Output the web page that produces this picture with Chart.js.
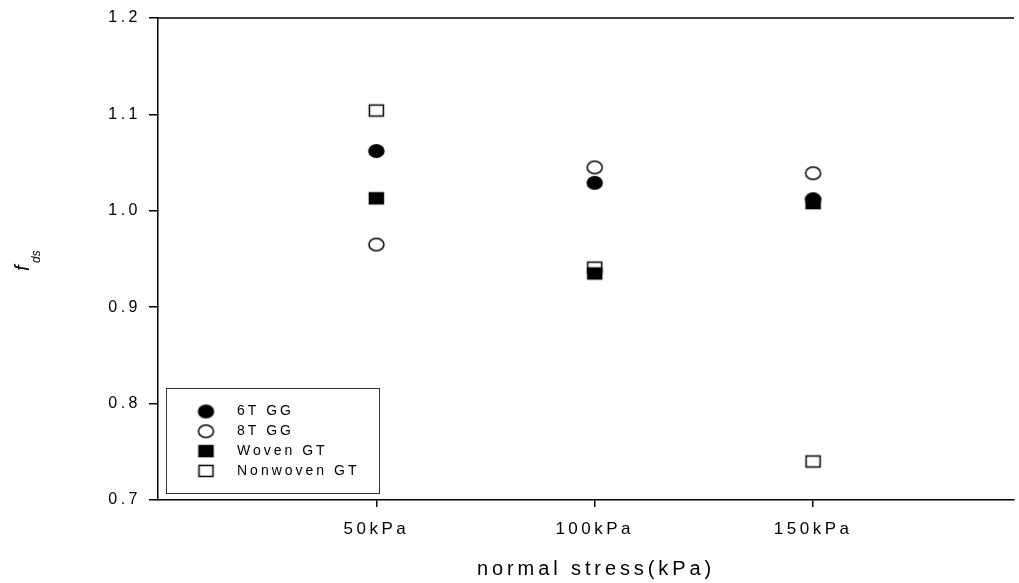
<!DOCTYPE html>
<html>
<head>
<meta charset="utf-8">
<script src="https://cdn.jsdelivr.net/npm/chart.js@4"></script>
<style>
  html, body { margin: 0; padding: 0; background: #fff; }
  #wrap { width: 1019px; height: 583px; position: relative; }
</style>
</head>
<body>
<div id="wrap"><canvas id="fdsChart"></canvas></div>
<script>
// categories on the x axis
const categories = ['50kPa', '100kPa', '150kPa'];
const yTicks = [0.7, 0.8, 0.9, 1.0, 1.1, 1.2];

// f_ds values
const gg6T = [1.062, 1.029, 1.012];
const gg8T = [0.965, 1.045, 1.039];
const wovenGT = [1.013, 0.935, 1.008];
const nonwovenGT = [1.104, 0.941, 0.740];

function toPoints(vals) {
    return vals.map((v, i) => ({ x: i + 1, y: v }));
}

let FONT = '"Liberation Sans", Arial, sans-serif';

// little canvases used as point styles (ellipses and flat squares)
function makeMarker(shape, filled) {
    let c = document.createElement('canvas');
    c.width = 19; c.height = 16;
    let g = c.getContext('2d');
    g.lineWidth = 1.5;
    g.strokeStyle = '#000';
    g.fillStyle = filled ? '#000' : '#fff';
    g.beginPath();
    if (shape === 'circle') {
        g.ellipse(9.5, 8, 7.5, 6.2, 0, 0, Math.PI * 2);
    } else {
        g.rect(2.5, 2.5, 14, 11);
    }
    g.fill();
    g.stroke();
    return c;
}

// letter spacing like the original plot
const spacingPlugin = {
    id: 'spacing',
    beforeDraw(chart) { chart.ctx.letterSpacing = '3.5px'; }
};

// top border, axis titles and boxed legend
const extrasPlugin = {
    id: 'extras',
    afterDraw(chart) {
        let ctx = chart.ctx;
        let area = chart.chartArea;
        ctx.save();
        ctx.strokeStyle = '#000';
        ctx.lineWidth = 1.5;
        ctx.beginPath();
        ctx.moveTo(area.left, area.top);
        ctx.lineTo(area.right, area.top);
        ctx.stroke();

        // x axis title
        ctx.fillStyle = '#000';
        ctx.font = '20px ' + FONT;
        ctx.letterSpacing = '3.9px';
        ctx.textAlign = 'center';
        ctx.textBaseline = 'alphabetic';
        ctx.fillText('normal stress(kPa)', 596, 575);

        // y axis title f_ds
        ctx.save();
        ctx.rotate(-Math.PI / 2);
        ctx.letterSpacing = '0px';
        ctx.textAlign = 'left';
        ctx.font = 'italic 20px ' + FONT;
        ctx.fillText('f', -271, 29);
        ctx.font = 'italic 12px ' + FONT;
        ctx.fillText('ds', -263, 40);
        ctx.restore();

        // legend
        let lx = 166, ly = 388, lw = 213, lh = 105;
        ctx.lineWidth = 1;
        ctx.strokeStyle = '#333';
        ctx.strokeRect(lx + 0.5, ly + 0.5, lw, lh);
        ctx.font = '14px ' + FONT;
        ctx.letterSpacing = '3px';
        ctx.textAlign = 'left';
        ctx.textBaseline = 'middle';
        chart.data.datasets.forEach((ds, i) => {
            let y = 411.5 + i * 19.8;
            let img = ds.pointStyle;
            ctx.drawImage(img, 206 - img.width / 2, y - img.height / 2);
            ctx.fillStyle = '#000';
            ctx.fillText(ds.label, 237, y);
        });
        ctx.restore();
    }
};

let ctx = document.getElementById('fdsChart').getContext('2d');
let fdsChart = new Chart(ctx, {
    type: 'scatter',
    data: {
        datasets: [{
            label: '6T GG',
            data: toPoints(gg6T),
            pointStyle: makeMarker('circle', true),
            backgroundColor: '#000',
            borderColor: '#000'
        }, {
            label: '8T GG',
            data: toPoints(gg8T),
            pointStyle: makeMarker('circle', false),
            backgroundColor: '#fff',
            borderColor: '#000'
        }, {
            label: 'Woven GT',
            data: toPoints(wovenGT),
            pointStyle: makeMarker('rect', true),
            backgroundColor: '#000',
            borderColor: '#000'
        }, {
            label: 'Nonwoven GT',
            data: toPoints(nonwovenGT),
            pointStyle: makeMarker('rect', false),
            backgroundColor: '#fff',
            borderColor: '#000'
        }]
    },
    options: {
        responsive: true,
        maintainAspectRatio: false,
        animation: false,
        layout: { padding: { left: 0, right: 0, top: 18, bottom: 0 } },
        plugins: {
            legend: { display: false },
            tooltip: { enabled: false }
        },
        scales: {
            x: {
                type: 'linear',
                min: 0,
                max: 3.92,
                afterBuildTicks(scale) {
                    scale.ticks = categories.map((c, i) => ({ value: i + 1 }));
                },
                afterFit(scale) { scale.height = 83; },
                grid: {
                    display: true,
                    drawOnChartArea: false,
                    drawTicks: true,
                    tickLength: 7,
                    color: '#000',
                    lineWidth: 1.5
                },
                border: { display: true, color: '#000', width: 1.5 },
                ticks: {
                    color: '#000',
                    font: { family: FONT, size: 17 },
                    padding: 12,
                    maxRotation: 0,
                    autoSkip: false,
                    callback: (v) => categories[v - 1] || ''
                }
            },
            y: {
                min: 0.7,
                max: 1.2,
                afterBuildTicks(scale) {
                    scale.ticks = yTicks.map(v => ({ value: v }));
                },
                afterFit(scale) { scale.width = 158; },
                grid: {
                    display: true,
                    drawOnChartArea: false,
                    drawTicks: true,
                    tickLength: 9,
                    color: '#000',
                    lineWidth: 1.5
                },
                border: { display: true, color: '#000', width: 1.5 },
                ticks: {
                    color: '#000',
                    font: { family: FONT, size: 16 },
                    padding: 8,
                    callback: (v) => v.toFixed(1)
                }
            }
        }
    },
    plugins: [spacingPlugin, extrasPlugin]
});
</script>
</body>
</html>
